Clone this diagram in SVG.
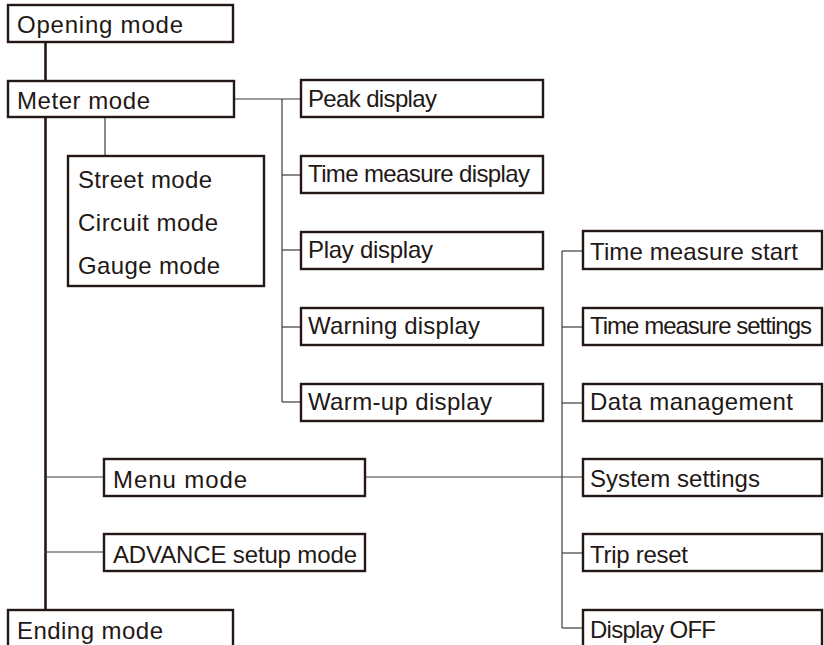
<svg xmlns="http://www.w3.org/2000/svg" width="824" height="645" viewBox="0 0 824 645">
<style>
.box{fill:#fff;stroke:#231815;stroke-width:2.4}
.t{font-family:"Liberation Sans",Arial,sans-serif;font-size:24px;fill:#231815}
.thin{stroke:#3e3a39;stroke-width:1.2;fill:none}
.thick{stroke:#231815;stroke-width:2.6;fill:none}
</style>
<rect width="824" height="645" fill="#fff"/>
<g id="connectors">
<line class="thick" x1="45.5" y1="42" x2="45.5" y2="610"/>
<polyline class="thin" points="234,99 301,99"/>
<line class="thin" x1="282" y1="99" x2="282" y2="402"/>
<line class="thin" x1="282" y1="175" x2="301" y2="175"/>
<line class="thin" x1="282" y1="250" x2="301" y2="250"/>
<line class="thin" x1="282" y1="327" x2="301" y2="327"/>
<line class="thin" x1="282" y1="402" x2="301" y2="402"/>
<line class="thin" x1="105" y1="118" x2="105" y2="156"/>
<line class="thin" x1="45" y1="477" x2="104" y2="477"/>
<line class="thin" x1="365" y1="477" x2="583" y2="477"/>
<line class="thin" x1="45" y1="552" x2="104" y2="552"/>
<line class="thin" x1="562" y1="251" x2="562" y2="628"/>
<line class="thin" x1="562" y1="251" x2="583" y2="251"/>
<line class="thin" x1="562" y1="327" x2="583" y2="327"/>
<line class="thin" x1="562" y1="403" x2="583" y2="403"/>
<line class="thin" x1="562" y1="553" x2="583" y2="553"/>
<line class="thin" x1="562" y1="628" x2="583" y2="628"/>
</g>
<g id="opening"><rect class="box" x="8" y="5" width="225" height="37"/><text class="t" x="17" y="33" textLength="166" lengthAdjust="spacing">Opening mode</text></g>
<g id="meter"><rect class="box" x="8" y="81" width="226" height="36"/><text class="t" x="17" y="109" textLength="133" lengthAdjust="spacing">Meter mode</text></g>
<g id="submodes"><rect class="box" x="68" y="156" width="196" height="130"/>
<text class="t" x="78" y="188" textLength="134" lengthAdjust="spacing">Street mode</text>
<text class="t" x="78" y="231" textLength="140" lengthAdjust="spacing">Circuit mode</text>
<text class="t" x="78" y="274" textLength="142" lengthAdjust="spacing">Gauge mode</text></g>
<g id="peak"><rect class="box" x="301" y="80" width="242" height="37"/><text class="t" x="308" y="107" textLength="129" lengthAdjust="spacing">Peak display</text></g>
<g id="timedisp"><rect class="box" x="301" y="156" width="242" height="37"/><text class="t" x="308" y="182" textLength="222" lengthAdjust="spacing">Time measure display</text></g>
<g id="play"><rect class="box" x="301" y="232" width="242" height="37"/><text class="t" x="308" y="258" textLength="125" lengthAdjust="spacing">Play display</text></g>
<g id="warning"><rect class="box" x="301" y="308" width="242" height="37"/><text class="t" x="308" y="334" textLength="172" lengthAdjust="spacing">Warning display</text></g>
<g id="warmup"><rect class="box" x="301" y="384" width="242" height="37"/><text class="t" x="308" y="410" textLength="184" lengthAdjust="spacing">Warm-up display</text></g>
<g id="tmstart"><rect class="box" x="583" y="231" width="239" height="38"/><text class="t" x="590" y="260" textLength="208" lengthAdjust="spacing">Time measure start</text></g>
<g id="tmsettings"><rect class="box" x="583" y="308" width="239" height="37"/><text class="t" x="590" y="334" textLength="222" lengthAdjust="spacing">Time measure settings</text></g>
<g id="datamgmt"><rect class="box" x="583" y="384" width="239" height="37"/><text class="t" x="590" y="410" textLength="203" lengthAdjust="spacing">Data management</text></g>
<g id="system"><rect class="box" x="583" y="459" width="239" height="37"/><text class="t" x="590" y="487" textLength="170" lengthAdjust="spacing">System settings</text></g>
<g id="trip"><rect class="box" x="583" y="534" width="239" height="37"/><text class="t" x="590" y="563" textLength="98" lengthAdjust="spacing">Trip reset</text></g>
<g id="displayoff"><rect class="box" x="583" y="610" width="239" height="37"/><text class="t" x="590" y="638" textLength="126" lengthAdjust="spacing">Display OFF</text></g>
<g id="menu"><rect class="box" x="104" y="459" width="261" height="37"/><text class="t" x="113" y="488" textLength="134" lengthAdjust="spacing">Menu mode</text></g>
<g id="advance"><rect class="box" x="104" y="534" width="261" height="37"/><text class="t" x="113" y="563" textLength="244" lengthAdjust="spacing">ADVANCE setup mode</text></g>
<g id="ending"><rect class="box" x="8" y="610" width="225" height="37"/><text class="t" x="17" y="639" textLength="146" lengthAdjust="spacing">Ending mode</text></g>
</svg>
